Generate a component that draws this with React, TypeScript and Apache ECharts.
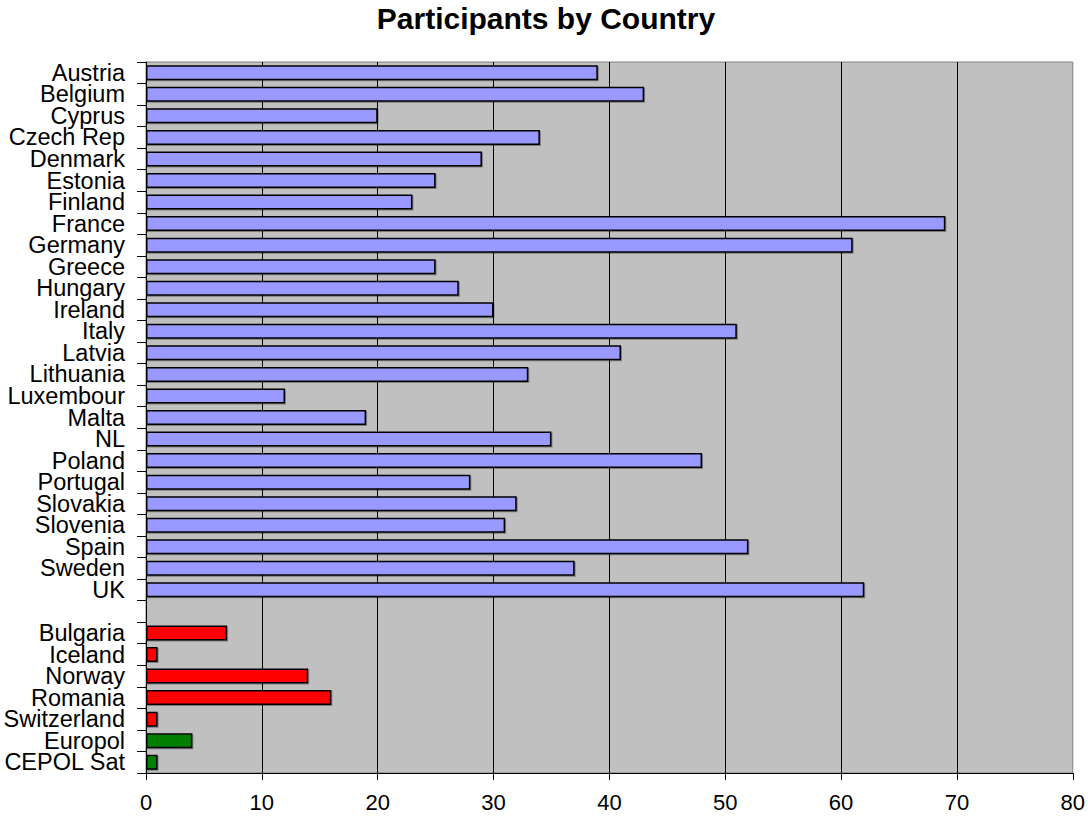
import React, { useEffect, useRef } from "react";
import * as echarts from "echarts";

const categories = [
  "Austria", "Belgium", "Cyprus", "Czech Rep", "Denmark", "Estonia", "Finland",
  "France", "Germany", "Greece", "Hungary", "Ireland", "Italy", "Latvia",
  "Lithuania", "Luxembour", "Malta", "NL", "Poland", "Portugal", "Slovakia",
  "Slovenia", "Spain", "Sweden", "UK", "",
  "Bulgaria", "Iceland", "Norway", "Romania", "Switzerland", "Europol", "CEPOL Sat",
];

const values: (number | null)[] = [
  39, 43, 20, 34, 29, 25, 23,
  69, 61, 25, 27, 30, 51, 41,
  33, 12, 19, 35, 48, 28, 32,
  31, 52, 37, 62, null,
  7, 1, 14, 16, 1, 4, 1,
];

// group of each bar
const groups = [
  "member", "member", "member", "member", "member", "member", "member",
  "member", "member", "member", "member", "member", "member", "member",
  "member", "member", "member", "member", "member", "member", "member",
  "member", "member", "member", "member", "none",
  "other", "other", "other", "other", "other", "agency", "agency",
];

const groupColors: Record<string, string> = {
  member: "#9999FF",
  other: "#FF0000",
  agency: "#008000",
  none: "#9999FF",
};

const xTicks = [0, 10, 20, 30, 40, 50, 60, 70, 80];

export default function App() {
  const ref = useRef<HTMLDivElement>(null);
  useEffect(() => {
    document.body.style.margin = "0";
    const chart = echarts.init(ref.current!, undefined, { renderer: "svg" });
    const font = "'Liberation Sans', Arial, sans-serif";
    chart.setOption({
      animation: false,
      backgroundColor: "#FFFFFF",
      title: {
        text: "Participants by Country",
        left: 541,
        textAlign: "center",
        top: -2,
        textStyle: { fontFamily: font, fontWeight: "bold", fontSize: 30, color: "#000" },
      },
      grid: {
        left: 146,
        right: 13,
        top: 62,
        bottom: 43,
        show: true,
        backgroundColor: "#C0C0C0",
        borderColor: "#808080",
        borderWidth: 1,
      },
      xAxis: {
        type: "value",
        min: xTicks[0],
        max: xTicks[xTicks.length - 1],
        interval: 10,
        position: "bottom",
        axisLine: { show: true, lineStyle: { color: "#000", width: 1 } },
        axisTick: { show: true, length: 7, lineStyle: { color: "#000" } },
        axisLabel: { fontFamily: font, fontSize: 22, color: "#000", margin: 18 },
        splitLine: { show: true, showMinLine: false, showMaxLine: false, lineStyle: { color: "#000", width: 1 } },
      },
      yAxis: {
        type: "category",
        inverse: true,
        data: categories,
        axisLine: { show: true, lineStyle: { color: "#000", width: 1 } },
        axisTick: { show: true, length: 9, lineStyle: { color: "#000" } },
        axisLabel: {
          fontFamily: font, fontSize: 23.5, color: "#000", margin: 21, interval: 0,
          lineHeight: 20, padding: [0, 0, 6, 0],
        },
        splitLine: { show: false },
      },
      series: [
        {
          type: "bar",
          barWidth: 15,
          data: values.map((v, i) => ({
            value: v,
            itemStyle: {
              color: groupColors[groups[i]],
              borderColor: "#000",
              borderWidth: 1.5,
              shadowColor: "rgba(0,0,0,0.35)",
              shadowOffsetX: 1,
              shadowOffsetY: 1,
              shadowBlur: 1,
            },
          })),
        },
      ],
    });
    return () => chart.dispose();
  }, []);
  return <div ref={ref} style={{ width: 1088, height: 816 }} />;
}
